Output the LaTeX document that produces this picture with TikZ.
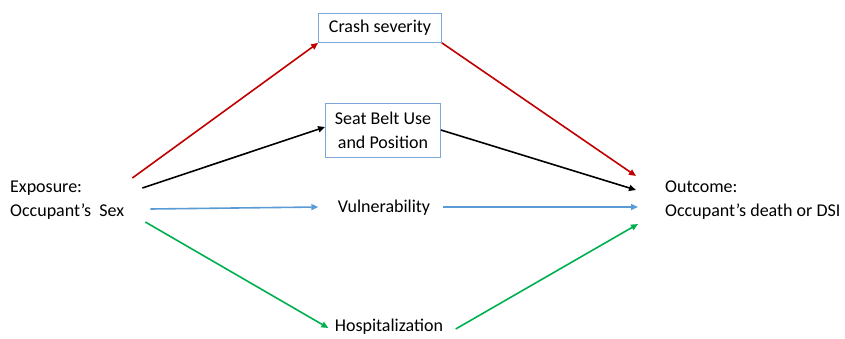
\documentclass[tikz,border=0pt]{standalone}
\usepackage{fontspec}
\setmainfont{Carlito}
\usepackage{xcolor}
\usepackage{tikz}
\usetikzlibrary{positioning, arrows.meta}
\definecolor{boxblue}{HTML}{7DA7D9}
\definecolor{lineblue}{HTML}{5B9BD5}
\definecolor{linered}{HTML}{C00000}
\definecolor{linegreen}{HTML}{00B050}

\begin{document}
\begin{tikzpicture}[x=1pt,y=-1pt,font=\fontsize{18}{24}\selectfont]
						\tikzstyle{factor}=[draw=boxblue,line width=0.8pt,align=center,inner xsep=7pt]
						\tikzstyle{plain}=[align=left,inner sep=0pt]
						\tikzstyle{path}=[line width=1.6pt,-{Triangle[length=7pt,width=6pt]}]
						\useasboundingbox (0,0) rectangle (845,338);
						\node[plain,anchor=west](expo) at (10,200) {Exposure:\\Occupant’s\ \ Sex};
						\node[plain,anchor=west](outc) at (665,200) {Outcome:\\Occupant’s death or DSI};
						\node[factor,minimum width=123pt,minimum height=29pt](crash) at (380,28) {Crash severity};
						\node[factor,minimum width=115pt,minimum height=54pt](belt) at (383,130) {Seat Belt Use\\and Position};
						\node(vuln) at (384,208) {Vulnerability};
						\node(hosp) at (389,327) {Hospitalization};
						\draw[path,linered]([xshift=8pt,yshift=22pt]expo.east) -- (crash.south west);
						\draw[path,linered](crash.south east) -- ([xshift=-29pt,yshift=24pt]outc.west);
						\draw[path,black]([xshift=18pt,yshift=12pt]expo.east) -- ([yshift=3pt]belt.west);
						\draw[path,black](belt.east) -- ([xshift=-29pt,yshift=10pt]outc.west);
						\draw[path,lineblue]([xshift=26pt,yshift=-9pt]expo.east) -- ([xshift=-16pt,yshift=1pt]vuln.west);
						\draw[path,lineblue]([xshift=9pt,yshift=1pt]vuln.east) -- ([xshift=-27pt,yshift=-7pt]outc.west);
						\draw[path,linegreen]([xshift=21pt,yshift=-22pt]expo.east) -- ([xshift=-3pt,yshift=-1pt]hosp.west);
						\draw[path,linegreen]([xshift=9pt,yshift=-2pt]hosp.east) -- ([xshift=-27pt,yshift=-24pt]outc.west);
					\end{tikzpicture}
\end{document}
